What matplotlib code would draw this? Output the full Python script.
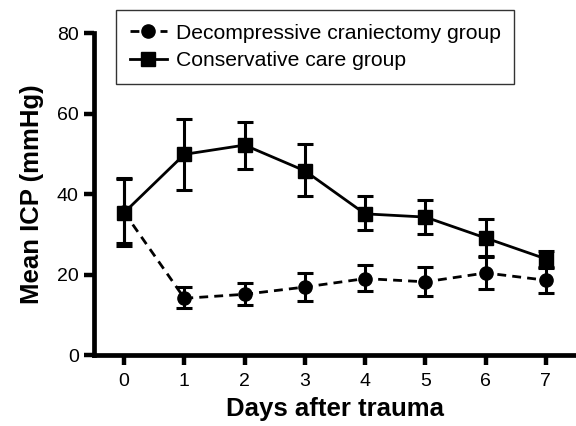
import matplotlib
matplotlib.use("Agg")
import matplotlib.pyplot as plt
from matplotlib.lines import Line2D

plt.rcParams['font.family'] = ['Liberation Sans', 'DejaVu Sans']

days = [0, 1, 2, 3, 4, 5, 6, 7]
dc_mean = [35.5, 14.1, 15.1, 16.9, 19.0, 18.2, 20.4, 18.6]
dc_lo = [8.4, 2.5, 2.6, 3.4, 3.1, 3.5, 4.0, 3.1]
dc_hi = [8.4, 2.8, 2.9, 3.4, 3.3, 3.6, 3.9, 3.1]
cc_mean = [35.4, 49.9, 52.2, 45.8, 35.1, 34.3, 29.1, 23.9]
cc_lo = [7.6, 8.8, 6.0, 6.3, 4.1, 4.2, 4.6, 2.1]
cc_hi = [8.3, 8.9, 5.7, 6.6, 4.4, 4.2, 4.6, 1.9]
yticks = [0, 20, 40, 60, 80]
labels = ['Decompressive craniectomy group', 'Conservative care group']

fig = plt.figure(figsize=(5.76, 4.26), dpi=100)
ax = fig.add_axes([94 / 576, 1 - 355 / 426, 1 - 94 / 576, (355 - 33.3) / 426])

ax.errorbar(days, dc_mean, yerr=[dc_lo, dc_hi], color='black', linestyle='--',
            dashes=(3.2, 2.2), linewidth=2, marker='o', markersize=9.5, capsize=6,
            capthick=2.2, elinewidth=2.2, zorder=3)
ax.errorbar(days, cc_mean, yerr=[cc_lo, cc_hi], color='black', linestyle='-',
            linewidth=2, marker='s', markersize=10, capsize=6,
            capthick=2.2, elinewidth=2.2, zorder=3)

ax.set_xlim(-0.5, 7.5)
ax.set_ylim(0, 80)
ax.set_xticks(days)
ax.set_yticks(yticks)
ax.tick_params(axis='both', width=3.2, length=7, labelsize=14, direction='out')
ax.tick_params(axis='x', pad=6)
ax.tick_params(axis='y', pad=4)
for s in ['top', 'right']:
    ax.spines[s].set_visible(False)
for s in ['left', 'bottom']:
    ax.spines[s].set_linewidth(3.4)
ax.spines['left'].set_bounds(0, 80)

ax.set_xlabel('Days after trauma', fontsize=18.5, fontweight='bold', labelpad=5)
ax.set_ylabel('Mean ICP (mmHg)', fontsize=18.5, fontweight='bold', labelpad=9)

handles = [
    Line2D([], [], color='black', linestyle='--', dashes=(3.2, 2.2), linewidth=2,
           marker='o', markersize=9.5),
    Line2D([], [], color='black', linestyle='-', linewidth=2,
           marker='s', markersize=10),
]
leg = fig.legend(handles, labels, loc='upper left',
                 bbox_to_anchor=(116 / 576, 1 - 10 / 426),
                 bbox_transform=fig.transFigure, fontsize=15.2, frameon=True,
                 fancybox=False, edgecolor='black', handlelength=1.75,
                 handletextpad=0.43, borderpad=0.65, labelspacing=0.4,
                 borderaxespad=0)
leg.get_frame().set_linewidth(1)

fig.savefig('out.png', dpi=100)
